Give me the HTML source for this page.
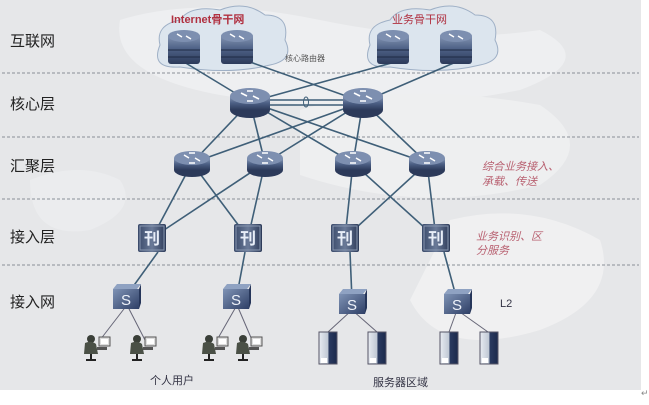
<!DOCTYPE html>
<html><head><meta charset="utf-8"><style>
html,body{margin:0;padding:0;background:#fff;}
svg{display:block;font-family:"Liberation Sans","Noto Sans CJK SC",sans-serif;}
</style></head><body>
<svg width="649" height="405" viewBox="0 0 649 405" xmlns="http://www.w3.org/2000/svg">
<defs>
<linearGradient id="rg" x1="0" y1="0" x2="0" y2="1"><stop offset="0" stop-color="#8a9bb8"/><stop offset="0.5" stop-color="#4d6085"/><stop offset="1" stop-color="#2c3a5a"/></linearGradient>
<linearGradient id="sg" x1="0" y1="0" x2="1" y2="1"><stop offset="0" stop-color="#7f93b5"/><stop offset="1" stop-color="#2e3f66"/></linearGradient>
<linearGradient id="ag" x1="0" y1="0" x2="1" y2="0"><stop offset="0" stop-color="#3a4a6a"/><stop offset="0.5" stop-color="#6a7a98"/><stop offset="1" stop-color="#2c3a58"/></linearGradient>
<linearGradient id="srv" x1="0" y1="0" x2="1" y2="0"><stop offset="0" stop-color="#e8ecf2"/><stop offset="0.5" stop-color="#c0c8d4"/><stop offset="0.55" stop-color="#2a3a60"/><stop offset="1" stop-color="#1c2a4c"/></linearGradient>
<g id="rt"><ellipse cx="0" cy="8" rx="20" ry="8" fill="#2c3a5a"/><rect x="-20" y="-6" width="40" height="14" fill="url(#rg)"/><ellipse cx="0" cy="-6" rx="20" ry="8" fill="#7d8fb0"/><path d="M-9,-9 l6,3 M9,-3 l-6,-3 M-3,-11 l6,0 M3,-1 l-6,0" stroke="#fff" stroke-width="1.6"/></g>
<g id="ar"><ellipse cx="0" cy="7" rx="18" ry="7" fill="#2c3a5a"/><rect x="-18" y="-5" width="36" height="12" fill="url(#rg)"/><ellipse cx="0" cy="-5" rx="18" ry="7" fill="#7d8fb0"/><path d="M-8,-8 l5,3 M8,-2 l-5,-3 M-3,-10 l6,0 M3,0 l-6,0" stroke="#fff" stroke-width="1.5"/></g>
<g id="ir"><rect x="-16" y="-14" width="32" height="30" rx="3" fill="url(#rg)"/><ellipse cx="0" cy="-12" rx="16" ry="6" fill="#7d8fb0"/><line x1="-16" y1="2" x2="16" y2="2" stroke="#1e2a44"/><line x1="-16" y1="9" x2="16" y2="9" stroke="#1e2a44"/><path d="M-7,-14 l5,3 M7,-9 l-5,-3" stroke="#fff" stroke-width="1.4"/></g>
<g id="ac"><rect x="-14" y="-14" width="28" height="28" rx="2" fill="url(#ag)"/><rect x="-12" y="-12" width="24" height="24" fill="none" stroke="#8897b0"/><text x="0" y="6" font-size="16" text-anchor="middle" fill="#e8eef8" font-weight="bold">刊</text></g>
<g id="sw"><path d="M-14,-8 l4,-5 h24 l-4,5z" fill="#8fa2c2"/><rect x="-14" y="-8" width="26" height="20" fill="url(#sg)"/><path d="M12,-8 l2,-5 v19 l-2,6z" fill="#26365a"/><text x="-1" y="8" font-size="15" text-anchor="middle" fill="#eef2fa">S</text></g>
<g id="us"><rect x="4" y="-10" width="11" height="9" fill="#ddd" stroke="#555"/><rect x="6" y="-8" width="7" height="5" fill="#fff"/><circle cx="-4" cy="-8" r="4" fill="#3a3f38"/><path d="M-10,-4 q6,-3 11,1 l2,10 h-14z" fill="#4a5046"/><path d="M-4,7 v6 M-9,13 h10" stroke="#222" stroke-width="2"/><rect x="2" y="0" width="10" height="3" fill="#555"/></g>
<g id="sv"><rect x="-9" y="-16" width="18" height="32" fill="url(#srv)"/><rect x="-9" y="-16" width="18" height="32" fill="none" stroke="#556"/><rect x="-7" y="10" width="6" height="5" fill="#fff"/></g>
</defs>
<rect x="0" y="0" width="641" height="390" fill="#e6e7e9"/>
<path d="M120,20 q80,-25 200,0 t220,10 q60,30 -20,60 q-150,30 -300,5 q-110,-20 -100,-75z" fill="#eeeff1"/>
<path d="M300,110 q100,-30 240,-5 q60,40 0,80 q-120,30 -240,-10 z" fill="#eeeff0"/>
<path d="M450,220 q80,-20 150,20 q20,60 -60,90 q-100,30 -130,-30z" fill="#f0f0f1"/>
<path d="M30,180 q50,-20 90,0 q20,30 -30,50 q-60,10 -60,-50z" fill="#ebecee"/>
<g stroke="#8a8f98" stroke-width="1" stroke-dasharray="3,2">
<line x1="2" y1="73" x2="639" y2="73"/><line x1="2" y1="137" x2="639" y2="137"/><line x1="2" y1="199" x2="639" y2="199"/><line x1="2" y1="265" x2="639" y2="265"/></g>
<g font-size="15" fill="#222">
<text x="10" y="46">互联网</text><text x="10" y="109">核心层</text><text x="10" y="171">汇聚层</text><text x="10" y="242">接入层</text><text x="10" y="307">接入网</text></g>
<path d="M160,45 q-5,-20 20,-25 q10,-15 40,-10 q25,-10 45,5 q25,0 20,25 q10,20 -15,25 q-40,10 -90,2 q-30,2 -20,-22z" fill="#dce5ee" stroke="#9fb0c6"/>
<path d="M370,45 q-5,-20 20,-25 q10,-15 40,-10 q25,-10 45,5 q25,0 20,25 q10,20 -15,25 q-40,10 -90,2 q-30,2 -20,-22z" fill="#dce5ee" stroke="#9fb0c6"/>
<text x="171" y="23" font-size="11" fill="#b03040" font-weight="bold">Internet骨干网</text>
<text x="392" y="23" font-size="11" fill="#b03040">业务骨干网</text>
<text x="285" y="61" font-size="8" fill="#555">核心路由器</text>
<g stroke="#3f5f78" stroke-width="1.6" fill="none">
<line x1="184" y1="62" x2="250" y2="102"/><line x1="250" y1="62" x2="363" y2="102"/><line x1="395" y1="62" x2="250" y2="102"/><line x1="456" y1="62" x2="363" y2="102"/>
<line x1="250" y1="102" x2="192" y2="163"/><line x1="250" y1="102" x2="265" y2="163"/><line x1="250" y1="102" x2="353" y2="163"/><line x1="250" y1="102" x2="427" y2="163"/>
<line x1="363" y1="102" x2="192" y2="163"/><line x1="363" y1="102" x2="265" y2="163"/><line x1="363" y1="102" x2="353" y2="163"/><line x1="363" y1="102" x2="427" y2="163"/>
<line x1="192" y1="163" x2="152" y2="238"/><line x1="192" y1="163" x2="248" y2="238"/><line x1="265" y1="163" x2="152" y2="238"/><line x1="265" y1="163" x2="248" y2="238"/>
<line x1="353" y1="163" x2="345" y2="238"/><line x1="353" y1="163" x2="436" y2="238"/><line x1="427" y1="163" x2="345" y2="238"/><line x1="427" y1="163" x2="436" y2="238"/>
<line x1="158" y1="252" x2="127" y2="295"/><line x1="245" y1="252" x2="237" y2="295"/><line x1="350" y1="252" x2="352" y2="300"/><line x1="444" y1="252" x2="457" y2="300"/>
<line x1="250" y1="100" x2="363" y2="100"/><line x1="250" y1="105" x2="363" y2="105"/>
</g>
<ellipse cx="306" cy="102" rx="2.5" ry="5" fill="none" stroke="#3f5f78"/>
<g stroke="#667" stroke-width="1"><line x1="127" y1="305" x2="100" y2="340"/><line x1="127" y1="305" x2="145" y2="340"/><line x1="237" y1="305" x2="217" y2="340"/><line x1="237" y1="305" x2="252" y2="340"/>
<line x1="352" y1="310" x2="328" y2="332"/><line x1="352" y1="310" x2="377" y2="332"/><line x1="457" y1="310" x2="449" y2="332"/><line x1="457" y1="310" x2="488" y2="332"/></g>
<use href="#ir" x="184" y="48"/><use href="#ir" x="237" y="48"/><use href="#ir" x="393" y="48"/><use href="#ir" x="456" y="48"/>
<use href="#rt" x="250" y="102"/><use href="#rt" x="363" y="102"/>
<use href="#ar" x="192" y="163"/><use href="#ar" x="265" y="163"/><use href="#ar" x="353" y="163"/><use href="#ar" x="427" y="163"/>
<use href="#ac" x="152" y="238"/><use href="#ac" x="248" y="238"/><use href="#ac" x="345" y="238"/><use href="#ac" x="436" y="238"/>
<use href="#sw" x="127" y="297"/><use href="#sw" x="237" y="297"/><use href="#sw" x="353" y="302"/><use href="#sw" x="458" y="302"/>
<use href="#us" x="95" y="347"/><use href="#us" x="141" y="347"/><use href="#us" x="213" y="347"/><use href="#us" x="247" y="347"/>
<use href="#sv" x="328" y="348"/><use href="#sv" x="377" y="348"/><use href="#sv" x="449" y="348"/><use href="#sv" x="489" y="348"/>
<g font-size="11" fill="#b86070" font-style="italic"><text x="482" y="170">综合业务接入、</text><text x="482" y="185">承载、传送</text><text x="476" y="240">业务识别、区</text><text x="476" y="254">分服务</text></g>
<text x="500" y="307" font-size="11" fill="#334">L2</text>
<text x="150" y="384" font-size="11" fill="#334">个人用户</text>
<text x="373" y="386" font-size="11" fill="#334">服务器区域</text>
<text x="641" y="396" font-size="9" fill="#888">↵</text>
</svg>
</body></html>
